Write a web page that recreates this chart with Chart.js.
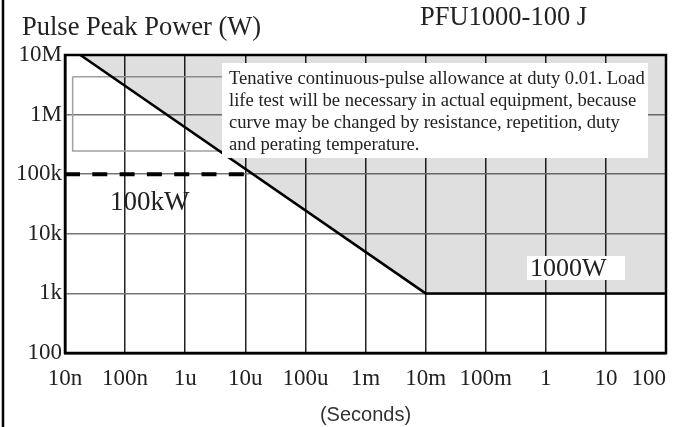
<!DOCTYPE html>
<html>
<head>
<meta charset="utf-8">
<script src="https://cdn.jsdelivr.net/npm/chart.js@4"></script>
<style>
    html, body { margin: 0; padding: 0; background: #fff; }
    #wrap { width: 679px; height: 427px; }
</style>
</head>
<body>
<div id="wrap"><canvas id="pulseChart" width="679" height="427"></canvas></div>
<script>
// axis decades and their labels
const xTicks = [1e-8, 1e-7, 1e-6, 1e-5, 1e-4, 1e-3, 1e-2, 1e-1, 1, 10, 100];
const xLabels = ['10n', '100n', '1u', '10u', '100u', '1m', '10m', '100m', '1', '10', '100'];
const yTicks = [1e2, 1e3, 1e4, 1e5, 1e6, 1e7];
const yLabels = ['100', '1k', '10k', '100k', '1M', '10M'];

// allowance curve (seconds, watts)
const limitX = [1.8e-8, 1e-2, 100];
const limitY = [1e7, 1e3, 1e3];

// 100kW peak limit
const peakX = [1e-8, 1e-5];
const peakY = [1e5, 1e5];

// grey outline box behind the note
const boxX = [1.34e-8, 1e-4, 1e-4, 1.34e-8, 1.34e-8];
const boxY = [4.3e6, 4.3e6, 2.45e5, 2.45e5, 4.3e6];

const noteLines = [
    'Tenative continuous-pulse allowance at duty 0.01. Load',
    'life test will be necessary in actual equipment, because',
    'curve may be changed by resistance, repetition, duty',
    'and perating temperature.'
];

const toPoints = (xs, ys) => xs.map((x, i) => ({ x: x, y: ys[i] }));
const serif = '"Liberation Serif", "Times New Roman", serif';

const decorations = {
    id: 'decorations',
    beforeDraw(chart) {
        const c = chart.ctx;
        c.save();
        c.fillStyle = '#fff';
        c.fillRect(0, 0, chart.width, chart.height);
        c.restore();
    },
    afterDatasetsDraw(chart) {
        const c = chart.ctx;
        const a = chart.chartArea;
        c.save();

        // note box
        c.fillStyle = '#fff';
        c.fillRect(222, 63, 426, 95);
        c.fillStyle = '#222';
        c.font = '18.6px ' + serif;
        c.textBaseline = 'alphabetic';
        noteLines.forEach((t, i) => c.fillText(t, 229, 84 + i * 22));

        // 1000W tag
        c.fillStyle = '#fff';
        c.fillRect(527, 256, 98, 24);
        c.fillStyle = '#222';
        c.font = '26px ' + serif;
        c.fillText('1000W', 530, 276);

        c.font = '27px ' + serif;
        c.fillText('100kW', 110, 210);

        // titles
        c.font = '26.5px ' + serif;
        c.fillText('Pulse Peak Power (W)', 22, 35);
        c.fillText('PFU1000-100 J', 420, 25);

        // plot frame
        c.strokeStyle = '#000';
        c.lineWidth = 2.5;
        c.strokeRect(a.left, a.top, a.right - a.left, a.bottom - a.top);

        // left page rule
        c.beginPath();
        c.moveTo(3, 0);
        c.lineTo(3, chart.height);
        c.stroke();
        c.restore();
    }
};

const ctx = document.getElementById('pulseChart').getContext('2d');

new Chart(ctx, {
    type: 'scatter',
    data: {
        datasets: [
            {
                label: 'Allowance',
                data: toPoints(limitX, limitY),
                showLine: true,
                borderColor: '#000',
                borderWidth: 2.5,
                backgroundColor: 'rgba(0,0,0,0.125)',
                fill: 'end',
                pointRadius: 0,
                tension: 0
            },
            {
                label: 'Peak',
                data: toPoints(peakX, peakY),
                showLine: true,
                borderColor: '#000',
                borderWidth: 4,
                borderDash: [15, 12.3],
                pointRadius: 0,
                fill: false
            },
            {
                label: 'Box',
                data: toPoints(boxX, boxY),
                showLine: true,
                borderColor: '#a0a0a0',
                borderWidth: 1.5,
                pointRadius: 0,
                fill: false
            }
        ]
    },
    options: {
        responsive: false,
        animation: false,
        layout: { padding: { top: 55, right: 13, bottom: 0, left: 0 } },
        plugins: {
            legend: { display: false },
            tooltip: { enabled: false }
        },
        scales: {
            x: {
                type: 'logarithmic',
                min: 1e-8,
                max: 100,
                afterBuildTicks: (scale) => { scale.ticks = xTicks.map(v => ({ value: v })); },
                afterFit: (scale) => {
                    scale.height = 74;
                    scale.paddingLeft = 0;
                    scale.paddingRight = 0;
                },
                ticks: {
                    autoSkip: false,
                    maxRotation: 0,
                    padding: 12,
                    color: '#222',
                    font: { family: serif, size: 23 },
                    callback: function (value, index) {
                        // last label sits inside the frame, as in the print
                        return index === xLabels.length - 1 ? xLabels[index] + '      ' : xLabels[index];
                    }
                },
                grid: {
                    drawTicks: false,
                    color: '#222',
                    lineWidth: 1.5
                },
                border: { display: true, color: '#000', width: 2.5 },
                title: {
                    display: true,
                    text: '(Seconds)',
                    color: '#333',
                    font: { family: '"Liberation Sans", Arial, sans-serif', size: 20 },
                    padding: { top: 0, bottom: 0 }
                }
            },
            y: {
                type: 'logarithmic',
                min: 100,
                max: 1e7,
                afterBuildTicks: (scale) => { scale.ticks = yTicks.map(v => ({ value: v })); },
                afterFit: (scale) => {
                    scale.width = 65;
                    scale.paddingTop = 0;
                    scale.paddingBottom = 0;
                },
                ticks: {
                    autoSkip: false,
                    padding: 3,
                    color: '#222',
                    font: { family: serif, size: 23 },
                    callback: function (value, index) {
                        return yLabels[index];
                    }
                },
                grid: {
                    drawTicks: false,
                    color: '#777',
                    lineWidth: 1.5
                },
                border: { display: true, color: '#000', width: 2.5 }
            }
        }
    },
    plugins: [decorations]
});
</script>
</body>
</html>
